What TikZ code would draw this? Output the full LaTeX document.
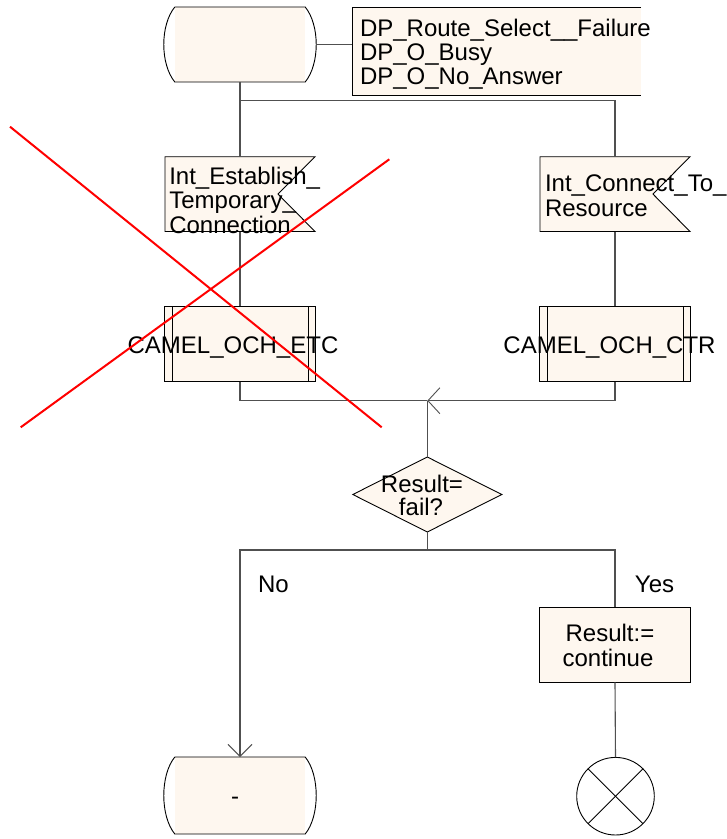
\documentclass[tikz,border=0pt]{standalone}
\usepackage{fontspec}
\setmainfont{Liberation Sans}
\usetikzlibrary{calc,shapes.geometric,arrows.meta}
\definecolor{cream}{RGB}{254,247,239}
\definecolor{wire}{RGB}{80,80,80}

% SDL start/end state: flat top and bottom, bulging sides
\newcommand\sdlstate[1]{%
  \fill[cream] ($(#1.north west)+(11,0)$) rectangle ($(#1.south east)+(-11,0)$);
  \draw[sdlline] ($(#1.north west)+(11,0)$) -- ($(#1.north east)+(-11,0)$)
    .. controls +(14.7,18) and +(14.7,-18) .. ($(#1.south east)+(-11,0)$)
    -- ($(#1.south west)+(11,0)$)
    .. controls +(-14.7,-18) and +(-14.7,18) .. ($(#1.north west)+(11,0)$);
}
% internal signal: box with a notch cut into its right side
\newcommand\sdlsignal[1]{%
  \draw[sdlline, fill=cream] (#1.north west) -- (#1.north east)
    -- ($(#1.east)+(-37,0)$) -- (#1.south east) -- (#1.south west) -- cycle;
}
% procedure call: box with a double line on each side
\newcommand\sdlproc[1]{%
  \draw[sdlline] ($(#1.north west)+(7.3,0)$) -- ($(#1.south west)+(7.3,0)$);
  \draw[sdlline] ($(#1.north east)+(-7.3,0)$) -- ($(#1.south east)+(-7.3,0)$);
}

\begin{document}
\begin{tikzpicture}[x=1pt,y=-1pt,
  sdlline/.style={draw=black, line width=0.9pt},
  conn/.style={draw=wire, line width=1.1pt},
  frame/.style={rectangle, inner sep=0pt, outer sep=0pt},
  procbox/.style={frame, sdlline, fill=cream, minimum width=150.5pt, minimum height=75.7pt},
  taskbox/.style={frame, sdlline, fill=cream, minimum width=150.7pt, minimum height=75pt},
  txt/.style={inner sep=0pt, outer sep=0pt, font=\fontsize{24}{24}\selectfont},
  barbtip/.style={-{Straight Barb[length=12pt,width=#1,line width=0.9pt]}},
  strike/.style={draw=red, line width=2pt}]
\useasboundingbox (0,0) rectangle (727,839);

% symbol extents
\node[frame, minimum width=152.4pt, minimum height=75pt] (start) at (240,44.5) {};
\node[frame, fill=cream, minimum width=289pt, minimum height=88pt] (dplist) at (496.5,51) {};
\node[frame, minimum width=150pt, minimum height=74.8pt] (sigL) at (240,194.1) {};
\node[frame, minimum width=150pt, minimum height=74.8pt] (sigR) at (615,194.1) {};
\node[procbox] (procL) at (240,343.85) {};
\node[procbox] (procR) at (615,343.85) {};
\node[diamond, sdlline, fill=cream, inner sep=0pt, outer sep=0pt,
      minimum width=149pt, minimum height=75pt] (dec) at (427.3,494.5) {};
\node[taskbox] (task) at (615,644.8) {};
\node[circle, sdlline, inner sep=0pt, outer sep=0pt, minimum size=77.6pt] (stop) at (615.5,796.2) {};
\node[frame, minimum width=152.4pt, minimum height=77pt] (endL) at (240,795.5) {};

\coordinate (split) at ($(start.south)+(0,18.3)$);
\coordinate (merge) at (427.3,400.7);
\coordinate (fork) at (427.3,550);

% symbol outlines
\sdlstate{start}
\sdlstate{endL}
\draw[sdlline] (dplist.north east) -- (dplist.north west) -- (dplist.south west) -- (dplist.south east);
\sdlsignal{sigL}
\sdlsignal{sigR}
\sdlproc{procL}
\sdlproc{procR}
\draw[sdlline] (stop.north west) -- (stop.south east);
\draw[sdlline] (stop.north east) -- (stop.south west);

% flow lines
\draw[conn] (start.east) -- (start.east -| dplist.west);
\draw[conn] (start.south) -- (sigL.north);
\draw[conn] (split) -| (sigR.north);
\draw[conn] (sigL.south) -- (procL.north);
\draw[conn] (sigR.south) -- (procR.north);
\draw[conn] (procL.south) |- (merge);
\draw[conn, barbtip=26pt] (procR.south) |- (merge);
\draw[conn] (merge) -- (dec.north);
\draw[conn] (dec.south) -- (fork);
\draw[conn, barbtip=24pt] (fork) -| (endL.north);
\draw[conn] (fork) -| (task.north);
\draw[conn] (task.south) -- (stop.north);

% texts
\node[txt, anchor=base west] (dp1) at (360,36) {DP\_Route\_Select\_\_Failure};
\node[txt, anchor=base west] (dp2) at (360,60) {DP\_O\_Busy};
\node[txt, anchor=base west] (dp3) at (360,84) {DP\_O\_No\_Answer};
\node[txt, anchor=base west] (sl1) at (169.3,184) {Int\_Establish\_};
\node[txt, anchor=base west] (sl2) at (169.3,208.5) {Temporary\_};
\node[txt, anchor=base west] (sl3) at (169.3,233) {Connection};
\node[txt, anchor=base west] (sr1) at (545,191) {Int\_Connect\_To\_};
\node[txt, anchor=base west] (sr2) at (545,216.5) {Resource};
\node[txt, anchor=base] (plt) at (233,353.3) {CAMEL\_OCH\_ETC};
\node[txt, anchor=base] (prt) at (609.5,353.3) {CAMEL\_OCH\_CTR};
\node[txt, anchor=base] (dq1) at (422,492.7) {Result=};
\node[txt, anchor=base] (dq2) at (421,515.5) {fail?};
\node[txt, anchor=base] (no) at (273.5,592.3) {No};
\node[txt, anchor=base] (yes) at (654.5,592.3) {Yes};
\node[txt, anchor=base] (tk1) at (610,641.7) {Result:=};
\node[txt, anchor=base] (tk2) at (608,666.5) {continue};
\node[txt, anchor=base] (dash) at (235,804) {-};

% strike-through cross
\draw[strike] (10,126.7) -- (381.7,427.3);
\draw[strike] (20.7,427.3) -- (389.3,159.3);
\end{tikzpicture}
\end{document}
